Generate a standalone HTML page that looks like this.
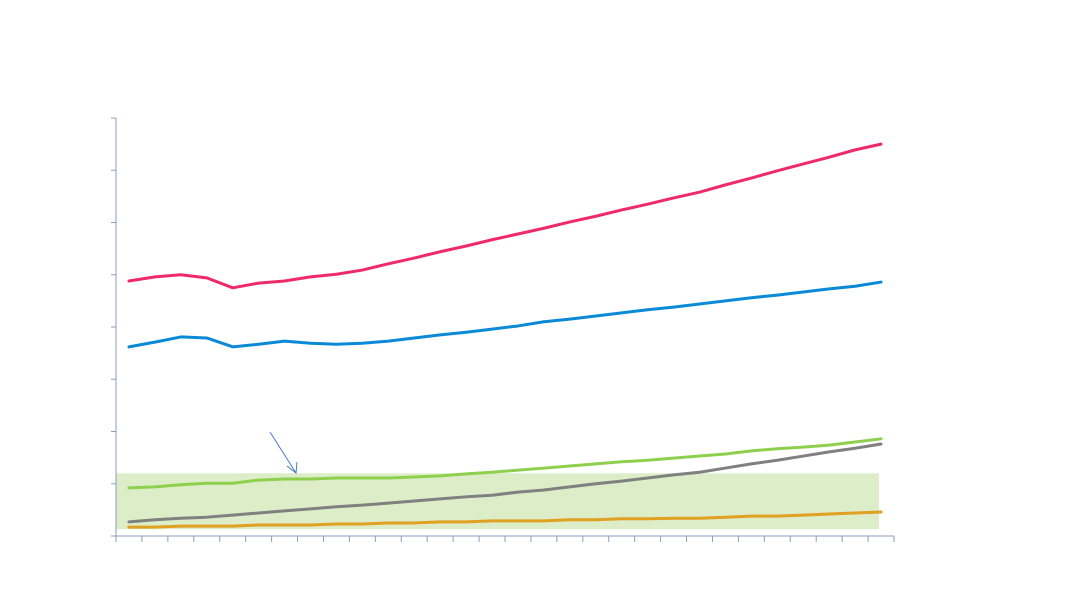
<!DOCTYPE html>
<html><head><meta charset="utf-8"><style>
html,body{margin:0;padding:0;background:#fff;}
svg{display:block;font-family:"Liberation Sans",sans-serif;}
</style></head><body>
<svg id="chart" width="1080" height="608"></svg>
<script>
const categories = Array.from({length:30},(_,i)=>'P'+(i+1));
const yTicks = [0,1,2,3,4,5,6,7,8];
const redSeries = [4.88,4.96,5.00,4.94,4.75,4.84,4.88,4.96,5.01,5.09,5.21,5.32,5.44,5.55,5.67,5.78,5.89,6.01,6.12,6.24,6.35,6.47,6.58,6.72,6.85,6.99,7.12,7.25,7.39,7.50];
const blueSeries = [3.62,3.71,3.81,3.79,3.62,3.67,3.73,3.69,3.67,3.69,3.73,3.79,3.85,3.90,3.96,4.02,4.10,4.15,4.21,4.27,4.33,4.38,4.44,4.50,4.56,4.61,4.67,4.73,4.78,4.86];
const greenSeries = [0.92,0.94,0.98,1.01,1.01,1.07,1.09,1.09,1.11,1.11,1.11,1.13,1.15,1.19,1.22,1.26,1.30,1.34,1.38,1.42,1.45,1.49,1.53,1.57,1.63,1.67,1.70,1.74,1.80,1.86];
const graySeries = [0.27,0.31,0.34,0.36,0.40,0.44,0.48,0.52,0.56,0.59,0.63,0.67,0.71,0.75,0.78,0.84,0.88,0.94,1.00,1.05,1.11,1.17,1.22,1.30,1.38,1.45,1.53,1.61,1.68,1.76];
const orangeSeries = [0.17,0.17,0.19,0.19,0.19,0.21,0.21,0.21,0.23,0.23,0.25,0.25,0.27,0.27,0.29,0.29,0.29,0.31,0.31,0.33,0.33,0.34,0.34,0.36,0.38,0.38,0.40,0.42,0.44,0.46];
const bandRange = [0.13,1.20];

const NS='http://www.w3.org/2000/svg';
const svg=document.getElementById('chart');
const X0=116,X1=894,Y0=536,Y1=118;
const step=(X1-X0)/categories.length;
const x=i=>X0+step*(i+0.5);
const y=v=>Y0-(v/8)*(Y0-Y1);
function mk(tag,attrs,parent){const e=document.createElementNS(NS,tag);for(const k in attrs)e.setAttribute(k,attrs[k]);(parent||svg).appendChild(e);return e;}

const band=mk('rect',{x:X0,y:y(bandRange[1]),width:879-X0,height:y(bandRange[0])-y(bandRange[1]),fill:'#dcedc8'});



const axisColor='#8c9cbc';
const yAxis=mk('line',{x1:X0,y1:Y1,x2:X0,y2:Y0,stroke:axisColor,'stroke-width':1});


const xAxis=mk('line',{x1:X0,y1:Y0,x2:X1,y2:Y0,stroke:axisColor,'stroke-width':1});


yTicks.forEach(t=>{
  const tk=mk('line',{x1:X0-5,y1:y(t),x2:X0,y2:y(t),stroke:axisColor,'stroke-width':1});
  
  
});
for(let i=0;i<=categories.length;i++){
  const tk=mk('line',{x1:X0+step*i,y1:Y0,x2:X0+step*i,y2:Y0+6,stroke:axisColor,'stroke-width':1});
  
  
}

function line(data,color,name){
  const p=mk('polyline',{points:data.map((v,i)=>x(i)+','+y(v)).join(' '),fill:'none',stroke:color,'stroke-width':3,'stroke-linejoin':'round','stroke-linecap':'round'});
  
  
}
line(orangeSeries,'#e0a020','series-orange');
line(graySeries,'#808080','series-gray');
line(greenSeries,'#8ed04e','series-green');
line(blueSeries,'#0a8ad6','series-blue');
line(redSeries,'#ee2a6a','series-red');

const arrow=mk('g',{});


mk('line',{x1:270,y1:432,x2:296,y2:473,stroke:'#4a7cc0','stroke-width':1},arrow);
mk('polyline',{points:'287,466 296,473 297,462',fill:'none',stroke:'#4a7cc0','stroke-width':1},arrow);
</script>
</body></html>
